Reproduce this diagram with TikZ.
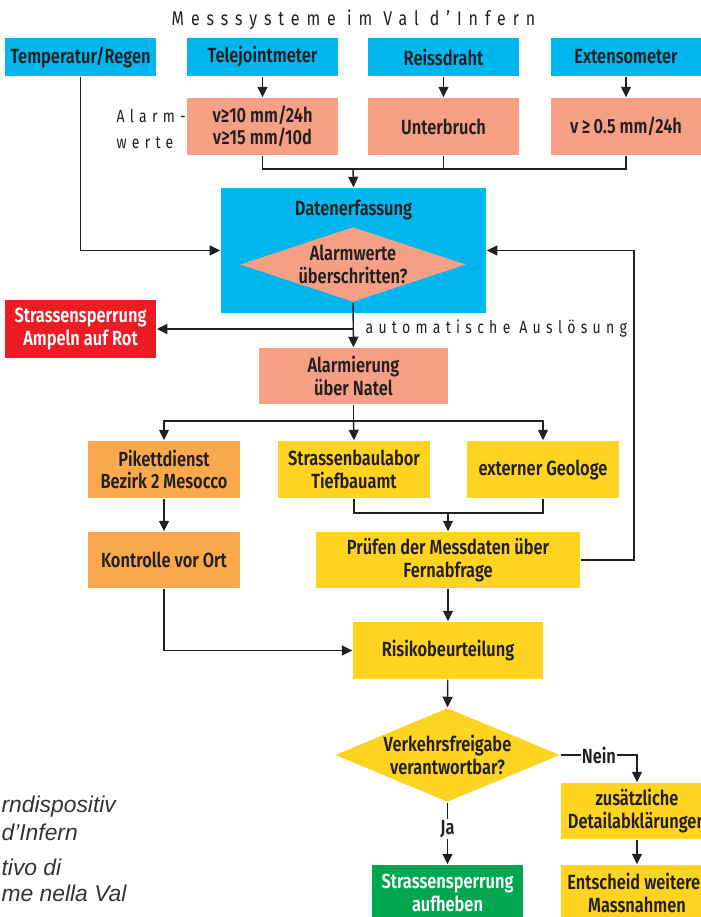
\documentclass[tikz,border=0pt]{standalone}
\usepackage{fontspec}
\usetikzlibrary{arrows.meta,shapes.geometric}
\setmainfont{Fira Sans}[UprightFont=* SemiBold, FakeStretch=0.8]
\newfontfamily\spacedfont{Fira Sans}[FakeStretch=0.8, LetterSpace=30]
\newfontfamily\titlefont{Fira Sans}[FakeStretch=0.8, LetterSpace=35]
\newfontfamily\notefont{Liberation Sans}[ItalicFont=* Italic]

\definecolor{ink}{HTML}{231F20}
\definecolor{cyanbox}{HTML}{00B6EF}
\definecolor{salmon}{HTML}{F5A084}
\definecolor{redbox}{HTML}{ED1C24}
\definecolor{orangebox}{HTML}{F9A94B}
\definecolor{yellowbox}{HTML}{FED420}
\definecolor{greenbox}{HTML}{00A650}
\definecolor{notegray}{HTML}{333333}

\tikzset{
    box/.style={rectangle, inner sep=0pt, align=center, text=ink,
        font=\fontsize{17.5}{19}\selectfont},
    sensor/.style={box, fill=cyanbox, minimum width=4.53cm, minimum height=1.14cm},
    limit/.style={box, fill=salmon, minimum width=4.53cm, minimum height=1.71cm},
    task/.style={box, minimum width=4.56cm, minimum height=1.71cm},
    question/.style={diamond, inner sep=0pt, align=center, text=ink,
        font=\fontsize{17.5}{19}\selectfont},
    spaced/.style={text=ink, font=\spacedfont\fontsize{15}{21.7}\selectfont},
    note/.style={anchor=west, text=notegray, font=\notefont\itshape\fontsize{19.5}{21}\selectfont},
    tag/.style={fill=white, inner sep=1pt, text=ink, font=\fontsize{17.5}{19}\selectfont}
}

\begin{document}
\begin{tikzpicture}[x=0.03cm, y=-0.03cm, line width=1.2pt, draw=ink,
    >={Triangle[length=9pt,width=8.5pt]}]
    \useasboundingbox (0,0) rectangle (701,917);
    \clip (0,0) rectangle (701,917);

    \node[text=ink, font=\titlefont\fontsize{17}{20}\selectfont] (title) at (353.5,20) {Messsysteme im Val d’Infern};

    \node[sensor] (temp) at (80.5,57) {Temperatur/Regen};
    \node[sensor] (tele) at (262.5,57) {Telejointmeter};
    \node[sensor] (reiss) at (443.5,57) {Reissdraht};
    \node[sensor] (ext) at (626,57) {Extensometer};

    \node[spaced, anchor=west, align=left] (alarmlbl) at (112,129) {Alarm-\\werte};
    \node[limit] (limtele) at (262.5,126.5) {v≥10 mm/24h\\v≥15 mm/10d};
    \node[limit] (limreiss) at (443.5,126.5) {Unterbruch};
    \node[limit] (limext) at (626,126.5) {v\,≥\,0.5 mm/24h};

    \node[box, fill=cyanbox, minimum width=7.95cm, minimum height=3.75cm] (daten) at (353.5,250.5) {};
    \node[box] (datenlbl) at (353.5,210) {Datenerfassung};
    \node[question, aspect=3, fill=salmon, minimum width=6.78cm, minimum height=2.25cm] (alarmq) at (353,264.5) {Alarmwerte\\überschritten?};

    \node[box, fill=redbox, text=white, minimum width=4.53cm, minimum height=1.74cm] (sperre) at (80.5,329) {Strassensperrung\\Ampeln auf Rot};
    \node[spaced, anchor=west] (auto) at (361,329) {automatische Auslösung};
    \node[box, fill=salmon, minimum width=5.67cm, minimum height=1.68cm] (natel) at (353.5,376) {Alarmierung\\über Natel};

    \node[task, fill=orangebox] (pikett) at (164,469.5) {Pikettdienst\\Bezirk 2 Mesocco};
    \node[task, fill=yellowbox] (labor) at (354,469.5) {Strassenbaulabor\\Tiefbauamt};
    \node[task, fill=yellowbox] (geologe) at (543,469.5) {externer Geologe};

    \node[task, fill=orangebox, minimum height=1.68cm] (kontrolle) at (164,560) {Kontrolle vor Ort};
    \node[task, fill=yellowbox, minimum width=7.92cm, minimum height=1.68cm] (pruefen) at (448,560) {Prüfen der Messdaten über\\Fernabfrage};

    \node[task, fill=yellowbox, minimum width=5.7cm] (risiko) at (448,650.5) {Risikobeurteilung};
    \node[question, aspect=2.4, fill=yellowbox, minimum width=6.75cm, minimum height=2.82cm] (freigabe) at (447.5,755) {Verkehrsfreigabe\\verantwortbar?};

    \node[task, fill=yellowbox, minimum height=1.68cm] (detail) at (637,811) {zusätzliche\\Detailabklärungen};
    \node[task, fill=yellowbox, minimum height=1.68cm] (entscheid) at (637,893) {Entscheid weiterer\\Massnahmen};
    \node[task, fill=greenbox, text=white, minimum width=4.53cm, minimum height=1.68cm] (aufheben) at (447.5,893) {Strassensperrung\\aufheben};

    \node[note] (note1) at (-3,807) {rndispositiv};
    \node[note] (note2) at (-3,832) {d’Infern};
    \node[note] (note3) at (-3,867) {tivo di};
    \node[note] (note4) at (-3,893) {me nella Val};

    \coordinate (join) at (353,169);
    \coordinate (ausl) at (353,329);
    \coordinate (fork) at (353.5,421);
    \coordinate (merge) at (448,513);
    \coordinate (loop) at (634,400);

    \draw[->] (tele) -- (limtele);
    \draw[->] (reiss) -- (limreiss);
    \draw[->] (ext) -- (limext);
    \draw (limtele.south) |- (join);
    \draw (limext.south) |- (join);
    \draw (limreiss.south) -- (limreiss.south |- join);
    \draw[->] (join) -- (daten.north);
    \draw[->] (temp.south) |- (daten.west);

    \draw[->] (alarmq.south) -- (natel.north);
    \draw[->] (ausl) -- (sperre.east);

    \draw (natel.south) -- (fork);
    \draw[->] (fork) -| (pikett.north);
    \draw[->] (fork) -| (geologe.north);
    \draw[->] (fork) -- (labor.north);

    \draw[->] (pikett) -- (kontrolle);
    \draw (labor.south) |- (merge);
    \draw (geologe.south) |- (merge);
    \draw[->] (merge) -- (pruefen.north);
    \draw[->] (pruefen.east) -- (pruefen.east -| loop) -- (loop |- daten.east) -- (daten.east);

    \draw[->] (pruefen) -- (risiko);
    \draw[->] (kontrolle.south) |- (risiko.west);
    \draw[->] (risiko) -- (freigabe.north);
    \draw[->] (freigabe.east) -- node[tag] {Nein} (freigabe.east -| detail.north) -- (detail.north);
    \draw[->] (freigabe.south) -- node[tag, pos=0.42] {Ja} (aufheben.north);
    \draw[->] (detail) -- (entscheid);
\end{tikzpicture}
\end{document}
